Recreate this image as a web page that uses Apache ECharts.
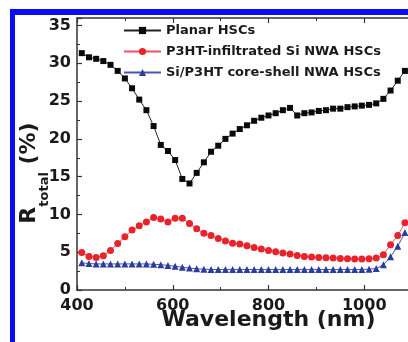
<!DOCTYPE html>
<html>
<head>
<meta charset="utf-8">
<script src="https://cdn.jsdelivr.net/npm/echarts@6/dist/echarts.min.js"></script>
<style>
html,body{margin:0;padding:0;background:#fff;}
#c{width:408px;height:342px;}
</style>
</head>
<body>
<div id="c"></div>
<script>
const wavelengths = [410,425,440,455,470,485,500,515,530,545,560,575,590,605,620,635,650,665,680,695,710,725,740,755,770,785,800,815,830,845,860,875,890,905,920,935,950,965,980,995,1010,1025,1040,1055,1070,1085];
const planar = [31.35,30.8,30.6,30.3,29.8,29.0,28.0,26.7,25.2,23.8,21.7,19.2,18.4,17.2,14.7,14.1,15.5,16.9,18.3,19.1,20.0,20.7,21.3,21.8,22.4,22.8,23.1,23.4,23.8,24.1,23.1,23.4,23.5,23.7,23.8,24.0,24.0,24.2,24.3,24.4,24.5,24.7,25.3,26.4,27.7,29.0];
const infiltrated = [4.97,4.44,4.31,4.54,5.24,6.16,7.05,7.93,8.5,9.0,9.6,9.4,9.0,9.5,9.5,8.8,8.1,7.5,7.2,6.8,6.5,6.2,6.08,5.86,5.64,5.42,5.24,5.07,4.89,4.76,4.58,4.44,4.36,4.31,4.27,4.23,4.18,4.14,4.1,4.1,4.14,4.23,4.67,5.99,7.2,8.9];
const coreShell = [3.6,3.5,3.45,3.45,3.45,3.45,3.45,3.45,3.45,3.45,3.4,3.35,3.25,3.15,3.0,2.9,2.8,2.75,2.72,2.72,2.72,2.72,2.72,2.72,2.72,2.72,2.72,2.72,2.72,2.72,2.72,2.72,2.72,2.72,2.72,2.72,2.72,2.72,2.72,2.72,2.75,2.85,3.35,4.4,5.8,7.6];
const seriesNames = ['Planar HSCs','P3HT-infiltrated Si NWA HSCs','Si/P3HT core-shell NWA HSCs'];
const xTicks = [400,600,800,1000];
const yTicks = [0,5,10,15,20,25,30,35];

const FONT = 'DejaVu Sans';
const pairs = (ys) => wavelengths.map((x,i)=>[x, ys[i]]);

const chart = echarts.init(document.getElementById('c'), null, {renderer:'canvas'});
const axisColor = '#333';
const xCommon = {
  type:'value', min:400, max:1200, interval:200,
  axisLine:{show:true, onZero:false, lineStyle:{color:axisColor,width:1.5}},
  axisTick:{show:true, inside:true, length:5, lineStyle:{color:axisColor,width:1.2}},
  minorTick:{show:true, splitNumber:2, length:3, lineStyle:{color:axisColor,width:1}},
  splitLine:{show:false}
};
chart.setOption({
  animation:false,
  backgroundColor:'#fff',
  graphic:[
    {type:'rect', shape:{x:10,y:9,width:398,height:6}, style:{fill:'#0a0af5'}, z:100},
    {type:'rect', shape:{x:10,y:9,width:5,height:333}, style:{fill:'#0a0af5'}, z:100}
  ],
  grid:{left:77, right:-52, top:18, bottom:52, containLabel:false, outerBoundsMode:'none'},
  legend:{
    orient:'vertical', left:123, top:24, padding:0, itemGap:8,
    itemWidth:37, itemHeight:9,
    textStyle:{fontFamily:FONT, fontWeight:'bold', fontSize:13, color:'#1a1a1a', lineHeight:13},
    data:seriesNames
  },
  xAxis:[
    Object.assign({}, xCommon, {
      position:'bottom',
      name:'Wavelength (nm)', nameLocation:'middle', nameGap:19, nameMoveOverlap:false,
      nameTextStyle:{fontFamily:FONT, fontWeight:'bold', fontSize:22, color:'#1a1a1a'},
      axisLabel:{show:true, margin:8, fontFamily:FONT, fontWeight:'bold', fontSize:16, color:'#1a1a1a',
        formatter:(v)=> xTicks.includes(v) ? String(v) : ''}
    }),
    Object.assign({}, xCommon, {position:'top', axisLabel:{show:false}})
  ],
  yAxis:{
    type:'value', min:0, max:36, interval:5,
    axisLine:{show:true, onZero:false, lineStyle:{color:axisColor,width:1.5}},
    axisTick:{show:true, inside:true, length:5, lineStyle:{color:axisColor,width:1.2}},
    minorTick:{show:true, splitNumber:2, length:3, lineStyle:{color:axisColor,width:1}},
    splitLine:{show:false},
    axisLabel:{margin:6, fontFamily:FONT, fontWeight:'bold', fontSize:16, color:'#1a1a1a',
      formatter:(v)=> yTicks.includes(v) ? String(v) : ''},
    name:'{r|R}{s|total}{r| (%)}', nameLocation:'middle', nameRotate:90, nameGap:35, nameMoveOverlap:false,
    nameTextStyle:{
      color:'#1a1a1a', padding:[0,38,0,0],
      rich:{
        r:{fontFamily:FONT, fontWeight:'bold', fontSize:22, lineHeight:24, verticalAlign:'top', color:'#1a1a1a'},
        s:{fontFamily:FONT, fontWeight:'bold', fontSize:13, lineHeight:14, verticalAlign:'top', padding:[20,0,0,0], color:'#1a1a1a'}
      }
    }
  },
  series:[
    {name:seriesNames[0], type:'line', data:pairs(planar), symbol:'rect', symbolSize:6,
     lineStyle:{color:'#222', width:1}, itemStyle:{color:'#0a0a0a'}, z:3},
    {name:seriesNames[1], type:'line', data:pairs(infiltrated), symbol:'circle', symbolSize:7,
     lineStyle:{color:'#f0506a', width:1}, itemStyle:{color:'#e8232b'}, z:2},
    {name:seriesNames[2], type:'line', data:pairs(coreShell), symbol:'triangle', symbolSize:7,
     lineStyle:{color:'#4a55b0', width:1}, itemStyle:{color:'#2a3c9c'}, z:2}
  ]
});
</script>
</body>
</html>
